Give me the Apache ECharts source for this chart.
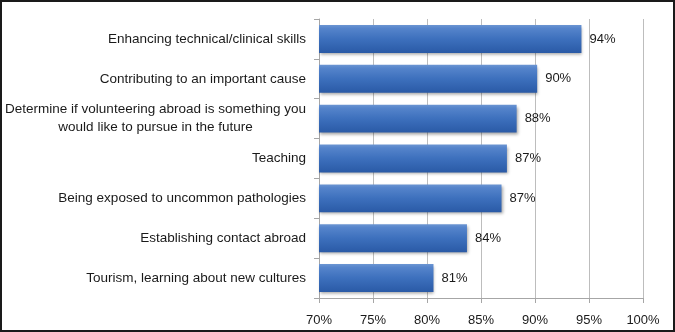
<!DOCTYPE html>
<html>
<head>
<meta charset="utf-8">
<script src="https://cdn.jsdelivr.net/npm/echarts@6/dist/echarts.min.js"></script>
<style>
html,body{margin:0;padding:0;background:#fff;}
#wrap{position:absolute;left:0;top:0;width:675px;height:332px;box-sizing:border-box;border:2px solid #1a1a1a;}
#chart{position:absolute;left:0;top:0;width:675px;height:332px;}
</style>
</head>
<body>
<div id="chart"></div>
<div id="wrap"></div>
<script>
// Categories listed bottom to top (ECharts category axis order)
const categories = [
  "Tourism, learning about new cultures",
  "Establishing contact abroad",
  "Being exposed to uncommon pathologies",
  "Teaching",
  "Determine if volunteering abroad is something you\nwould like to pursue in the future",
  "Contributing to an important cause",
  "Enhancing technical/clinical skills"
];
const values = [80.6, 83.7, 86.9, 87.4, 88.3, 90.2, 94.3];
const tickMin = 70, tickMax = 100, tickStep = 5;

const chart = echarts.init(document.getElementById('chart'), null, {renderer: 'canvas'});
const fontFam = '"Liberation Sans", Arial, sans-serif';
chart.setOption({
  animation: false,
  grid: {left: 319, right: 32, top: 19, bottom: 34},
  xAxis: {
    type: 'value', min: tickMin, max: tickMax, interval: tickStep,
    axisLine: {show: true, lineStyle: {color: '#a6a6a6', width: 1}},
    axisTick: {show: true, length: 5, lineStyle: {color: '#a6a6a6'}},
    splitLine: {show: true, lineStyle: {color: '#bdbdbd', width: 1}},
    axisLabel: {color: '#1a1a1a', fontSize: 13, fontFamily: fontFam, margin: 16,
      formatter: v => v + '%'}
  },
  yAxis: {
    type: 'category', data: categories,
    axisLine: {show: true, lineStyle: {color: '#a6a6a6', width: 1}},
    axisTick: {show: true, length: 5, lineStyle: {color: '#a6a6a6'}},
    axisLabel: {
      color: '#1a1a1a', fontSize: 13.5, fontFamily: fontFam, margin: 13, lineHeight: 18,
      formatter: v => v.split('\n').map(s => '{c|' + s + '}').join('\n'),
      rich: {c: {align: 'center', fontSize: 13.5, fontFamily: fontFam, color: '#1a1a1a', lineHeight: 18}}
    }
  },
  series: [{
    type: 'bar', data: values, barCategoryGap: '30%',
    itemStyle: {
      color: new echarts.graphic.LinearGradient(0, 0, 0, 1, [
        {offset: 0, color: '#6b95d2'},
        {offset: 0.12, color: '#5584cb'},
        {offset: 0.5, color: '#3d70bd'},
        {offset: 1, color: '#2a5aa6'}
      ]),
      shadowColor: 'rgba(0,0,0,0.35)', shadowBlur: 3, shadowOffsetX: 1, shadowOffsetY: 2
    },
    label: {
      show: true, position: 'right', distance: 8, color: '#1a1a1a',
      fontSize: 13, fontFamily: fontFam,
      formatter: p => Math.round(p.value) + '%'
    }
  }]
});
</script>
</body>
</html>
